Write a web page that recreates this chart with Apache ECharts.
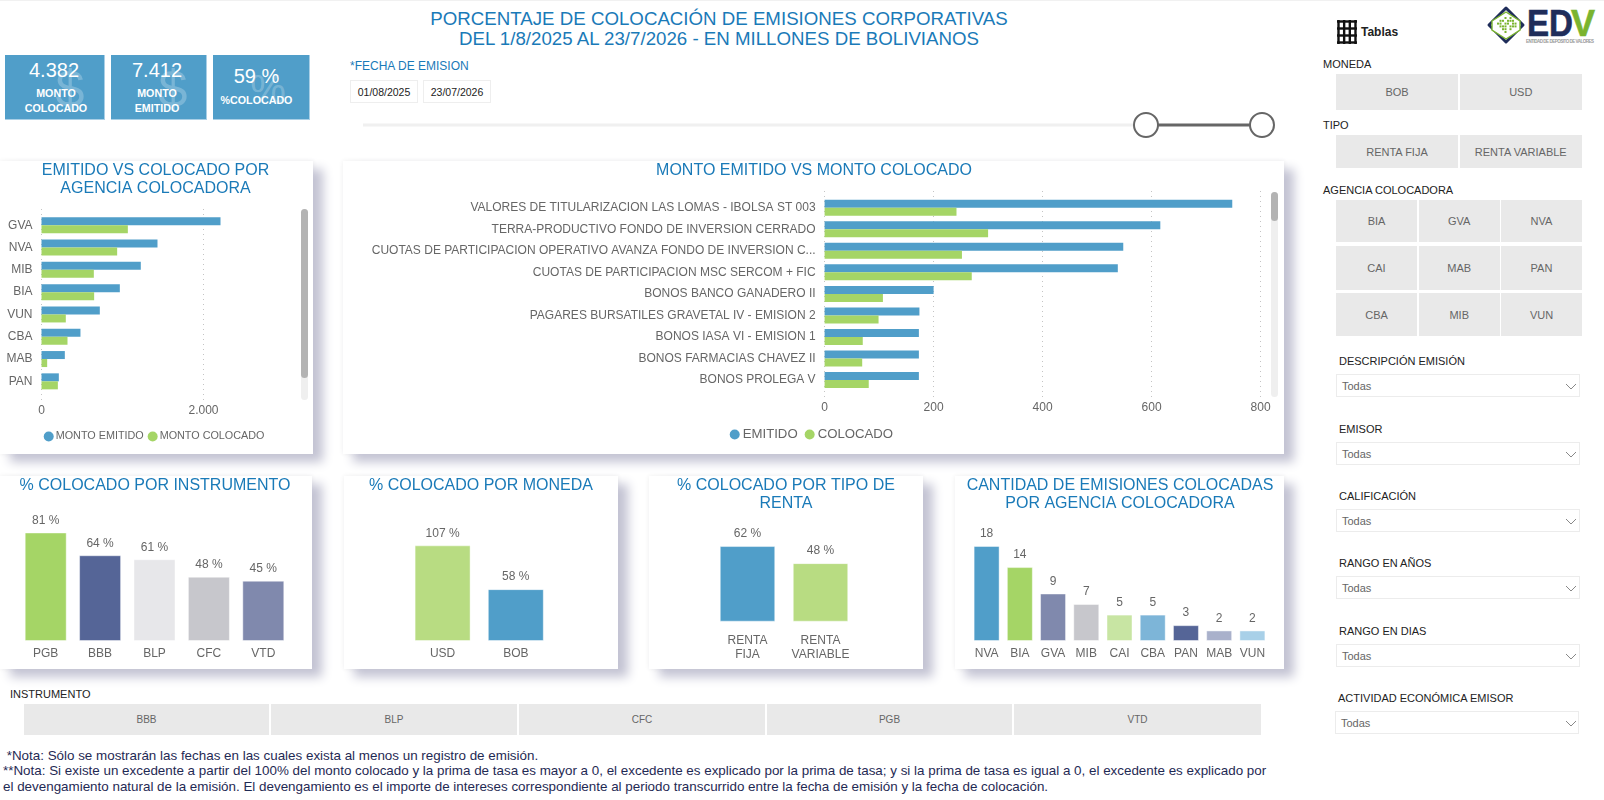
<!DOCTYPE html>
<html>
<head>
<meta charset="utf-8">
<title>Colocación de emisiones corporativas</title>
<script src="https://cdn.jsdelivr.net/npm/echarts@6/dist/echarts.min.js"></script>
<style>
html, body { margin: 0; padding: 0; background: #fff; }
body { position: relative; width: 1604px; height: 800px; overflow: hidden; font-family: "Liberation Sans", Arial, sans-serif; }
#page { position: absolute; left: 0; top: 0; width: 1604px; height: 800px; }
#chart { position: absolute; left: 0; top: 0; width: 1604px; height: 800px; }
.a { position: absolute; white-space: nowrap; }
.panel { background: #fff; box-shadow: 10px 8px 10px #c3c3d3, 0 0 5px #eeeeee; }
.kpi { background: #509ec9; color: #fff; overflow: hidden; border-right: 1px solid #a9cfe6; border-bottom: 1px solid #a9cfe6; box-sizing: border-box; }
.btn { background: #e9e9e9; color: #666; font-size: 11px; display: flex; align-items: center; justify-content: center; }
.lab { font-size: 11px; color: #222; line-height: 14px; }
.drop { border: 1px solid #ececec; box-sizing: border-box; color: #666; font-size: 11px; background: #fff; line-height: 22px; padding-left: 5px; }
.date { border: 1px solid #eee; box-sizing: border-box; font-size: 10.5px; color: #222; text-align: center; line-height: 23px; }
.note { font-size: 13.4px; color: #1f2a54; line-height: 15px; }
</style>
</head>
<body>
<div id="page"></div>
<div id="chart"></div>
<script>
const blue = '#509ec9'
const green = '#a5d566'
const titleColor = '#1a7ab8'
const textColor = '#666666'

// emitido vs colocado por agencia
const agencyNames = ['GVA', 'NVA', 'MIB', 'BIA', 'VUN', 'CBA', 'MAB', 'PAN']
const agencyEmitted = [2210, 1432, 1226, 967, 720, 481, 288, 214]
const agencyPlaced = [1066, 934, 646, 650, 300, 321, 70, 202]

// monto emitido vs colocado
const issueNames = [
  'VALORES DE TITULARIZACION LAS LOMAS - IBOLSA ST 003',
  'TERRA-PRODUCTIVO FONDO DE INVERSION CERRADO',
  'CUOTAS DE PARTICIPACION OPERATIVO AVANZA FONDO DE INVERSION C...',
  'CUOTAS DE PARTICIPACION MSC SERCOM + FIC',
  'BONOS BANCO GANADERO II',
  'PAGARES BURSATILES GRAVETAL IV - EMISION 2',
  'BONOS IASA VI - EMISION 1',
  'BONOS FARMACIAS CHAVEZ II',
  'BONOS PROLEGA V'
]
const issueEmitted = [748, 616, 548, 538, 200, 174, 173, 173, 173]
const issuePlaced = [242, 300, 252, 270, 107, 99, 70, 69, 81]

const instrumentNames = ['PGB', 'BBB', 'BLP', 'CFC', 'VTD']
const instrumentPct = [81, 64, 61, 48, 45]
const instrumentColors = [green, '#556597', '#e7e7ea', '#c7c7cc', '#8089ad']

const currencyNames = ['USD', 'BOB']
const currencyPct = [107, 58]
const currencyColors = ['#b8dc82', blue]

const rentNames = ['RENTA FIJA', 'RENTA VARIABLE']
const rentPct = [62, 48]
const rentColors = [blue, '#b8dc82']

const countNames = ['NVA', 'BIA', 'GVA', 'MIB', 'CAI', 'CBA', 'PAN', 'MAB', 'VUN']
const countValues = [18, 14, 9, 7, 5, 5, 3, 2, 2]
const countColors = [blue, green, '#8089ad', '#c7c7cc', '#c8e5a3', '#7db5d8', '#556597', '#a9b1cb', '#a8d0e8']

// slicers and page texts
const monedaButtons = ['BOB', 'USD']
const tipoButtons = ['RENTA FIJA', 'RENTA VARIABLE']
const agencyButtons = ['BIA', 'GVA', 'NVA', 'CAI', 'MAB', 'PAN', 'CBA', 'MIB', 'VUN']
const instrumentButtons = ['BBB', 'BLP', 'CFC', 'PGB', 'VTD']
const dropLabels = ['DESCRIPCIÓN EMISIÓN', 'EMISOR', 'CALIFICACIÓN', 'RANGO EN AÑOS', 'RANGO EN DIAS', 'ACTIVIDAD ECONÓMICA EMISOR']
const notes = [
  ' *Nota: Sólo se mostrarán las fechas en las cuales exista al menos un registro de emisión.',
  '**Nota: Si existe un excedente a partir del 100% del monto colocado y la prima de tasa es mayor a 0, el excedente es explicado por la prima de tasa; y si la prima de tasa es igual a 0, el excedente es explicado por',
  'el devengamiento natural de la emisión. El devengamiento es el importe de intereses correspondiente al periodo transcurrido entre la fecha de emisión y la fecha de colocación.'
]

const page = document.getElementById('page')

function add(cls, x, y, w, h, text, style) {
  const d = document.createElement('div')
  d.className = 'a ' + cls
  d.style.left = x + 'px'
  d.style.top = y + 'px'
  if (w) d.style.width = w + 'px'
  if (h) d.style.height = h + 'px'
  if (text) d.textContent = text
  if (style) d.style.cssText += style
  page.appendChild(d)
  return d
}

function kpi(x, w, value, labels, mark, markX, markSize, valueX, labelX, valueY, labelY) {
  add('kpi', x, 55, w, 65)
  add('', markX, 60, 60, 58, mark, 'font-size:' + markSize + 'px;color:rgba(255,255,255,.24);text-align:center;line-height:58px;')
  add('', valueX, valueY, w, 24, value, 'font-size:20px;color:#fff;text-align:center;line-height:24px;')
  labels.forEach((l, i) => {
    add('', labelX, labelY + i * 15, w, 14, l, 'font-size:10.7px;font-weight:bold;color:#fff;text-align:center;line-height:14px;')
  })
}

function buildPage() {
  page.appendChild(Object.assign(document.createElement('div'), { className: 'a', style: 'left:0;top:0;width:1604px;height:1px;background:#f1f1f1;' }))

  add('', 350, 8, 738, 21, 'PORCENTAJE DE COLOCACIÓN DE EMISIONES CORPORATIVAS', 'font-size:18.7px;color:' + titleColor + ';text-align:center;line-height:21px;')
  add('', 350, 28, 738, 21, 'DEL 1/8/2025 AL 23/7/2026 - EN MILLONES DE BOLIVIANOS', 'font-size:18.7px;color:' + titleColor + ';text-align:center;line-height:21px;')

  kpi(5, 100, '4.382', ['MONTO', 'COLOCADO'], '$', 40, 52, 4, 6, 58, 86)
  kpi(111, 96, '7.412', ['MONTO', 'EMITIDO'], '$', 143, 52, 109, 109, 58, 86)
  kpi(213, 97, '59 %', ['%COLOCADO'], '%', 238, 40, 208, 208, 64, 93)

  add('', 350, 59, 0, 14, '*FECHA DE EMISION', 'font-size:12px;color:' + titleColor + ';line-height:14px;')
  add('date', 350, 80, 68, 23, '01/08/2025')
  add('date', 423, 80, 68, 23, '23/07/2026')

  // date range slider
  page.insertAdjacentHTML('beforeend',
    '<svg class="a" style="left:0;top:100px" width="1300" height="50">' +
    '<line x1="363" y1="25" x2="1146" y2="25" stroke="#f0f0f0" stroke-width="3"/>' +
    '<line x1="1146" y1="25" x2="1262" y2="25" stroke="#666" stroke-width="3"/>' +
    '<circle cx="1146" cy="25" r="12" fill="#fff" stroke="#666" stroke-width="2"/>' +
    '<circle cx="1262" cy="25" r="12" fill="#fff" stroke="#666" stroke-width="2"/></svg>')

  add('panel', 0, 161, 313, 293)
  add('panel', 343, 161, 941, 293)
  add('panel', 0, 476, 312, 193)
  add('panel', 344, 476, 274, 193)
  add('panel', 649, 476, 274, 193)
  add('panel', 955, 476, 329, 193)

  // scrollbars
  add('', 301, 209, 7, 191, '', 'background:#efefef;border-radius:4px;')
  add('', 301, 209, 7, 169, '', 'background:#b3b3b3;border-radius:4px;')
  add('', 1271, 192, 7, 205, '', 'background:#efefef;border-radius:4px;')
  add('', 1271, 192, 7, 29, '', 'background:#b3b3b3;border-radius:4px;')

  // instrument slicer
  add('lab', 10, 687, 0, 14, 'INSTRUMENTO')
  const instX = [24, 271, 519, 767, 1014]
  const instW = [245, 246, 246, 245, 247]
  instrumentButtons.forEach((b, i) => add('btn', instX[i], 704, instW[i], 31, b, 'font-size:10px;'))

  notes.forEach((n, i) => {
    add('note', 3, 748 + i * 15.4, 0, 15, n, 'white-space:pre;')
  })

  // header right
  let grid = ''
  for (let i = 0; i <= 3; i++) {
    const gx = 1.5 + i * 5.66, gy = 1.5 + i * 7
    grid += '<line x1="' + gx + '" y1="0" x2="' + gx + '" y2="24"/><line x1="0" y1="' + gy + '" x2="20" y2="' + gy + '"/>'
  }
  page.insertAdjacentHTML('beforeend', '<svg class="a" style="left:1337px;top:19.5px" width="20" height="24" stroke="#111" stroke-width="2.4">' + grid + '</svg>')
  add('', 1361, 25, 0, 14, 'Tablas', 'font-size:12px;font-weight:bold;color:#222;line-height:14px;')

  let dots = ''
  const dotRows = [[3, 5], [1, 2, 4, 5, 6], [0, 1, 3, 4, 6, 7], [1, 2, 3, 5, 6, 7], [2, 3, 5], [3]]
  dotRows.forEach((r, j) => r.forEach(k => {
    dots += '<rect x="' + (1497 + k * 2.5) + '" y="' + (17 + j * 2.8) + '" width="2" height="2" fill="#7ab42f"/>'
  }))
  page.insertAdjacentHTML('beforeend',
    '<svg class="a" style="left:0;top:0" width="1604" height="50">' +
    '<path d="M1506 8 L1523 25 L1506 42 L1489 25 Z" fill="none" stroke="#1f2d5a" stroke-width="3" stroke-linejoin="round"/>' +
    '<path d="M1492 21 L1506 12 L1520 21 L1520 30 L1506 39 L1492 30 Z" fill="#fff" stroke="#7ab42f" stroke-width="1.4"/>' + dots +
    '<text x="1527" y="36" font-family="Liberation Sans" font-weight="bold" font-size="36" fill="#1f2d5a" stroke="#1f2d5a" stroke-width=".6" textLength="46" lengthAdjust="spacingAndGlyphs">ED</text>' +
    '<text x="1571" y="36" font-family="Liberation Sans" font-weight="bold" font-size="36" fill="#7ab42f" stroke="#7ab42f" stroke-width=".6" textLength="24" lengthAdjust="spacingAndGlyphs">V</text>' +
    '<text x="1526" y="43" font-family="Liberation Sans" font-weight="bold" font-size="4.5" fill="#9a9a9a" textLength="68">ENTIDAD DE DEPOSITO DE VALORES</text></svg>')

  add('lab', 1323, 57, 0, 14, 'MONEDA')
  add('btn', 1336, 74, 122, 36, monedaButtons[0])
  add('btn', 1460, 74, 121.5, 36, monedaButtons[1])
  add('lab', 1323, 118, 0, 14, 'TIPO')
  add('btn', 1336, 135, 122, 33, tipoButtons[0])
  add('btn', 1460, 135, 121.5, 33, tipoButtons[1])
  add('lab', 1323, 183, 0, 14, 'AGENCIA COLOCADORA')

  const agX = [1336, 1418.7, 1501]
  const agY = [200, 246, 293.3]
  const agH = [42.3, 44, 42.7]
  agencyButtons.forEach((b, i) => add('btn', agX[i % 3], agY[Math.floor(i / 3)], 81, agH[Math.floor(i / 3)], b))

  const labY = [354, 422, 489, 556, 624, 691]
  const boxY = [374, 442, 509, 576, 644, 711]
  dropLabels.forEach((l, i) => {
    const off = i === 5 ? -1 : 0
    add('lab', 1339 + off, labY[i], 0, 14, l)
    add('drop', 1336 + off, boxY[i], 244, 23, 'Todas')
    page.insertAdjacentHTML('beforeend',
      '<svg class="a" style="left:1565px;top:' + (boxY[i] + 9) + 'px" width="12" height="7"><path d="M1 1 L6 6 L11 1" fill="none" stroke="#888" stroke-width="1"/></svg>')
  })
}

buildPage()

// ---- charts ----

function chartTitle(text, x, y) {
  return {
    text: text, left: x - 5, top: y, textAlign: 'center',
    textStyle: { color: titleColor, fontSize: 16, fontWeight: 'normal', fontFamily: 'Liberation Sans', lineHeight: 18 }
  }
}

const labelFont = { color: textColor, fontSize: 12, fontFamily: 'Liberation Sans' }
const grids = []
const xAxes = []
const yAxes = []
const series = []

// horizontal bars: one grid for the bars, one taller grid for the dotted value axis
function hBars(cfg) {
  const idx = grids.length
  grids.push({ left: cfg.x, top: cfg.top, width: cfg.barWidth, height: cfg.height })
  xAxes.push({ gridIndex: idx, type: 'value', min: 0, max: cfg.barMax, show: false })
  yAxes.push({
    gridIndex: idx, type: 'category', inverse: true, data: cfg.names,
    axisLine: { show: false }, axisTick: { show: false },
    axisLabel: { ...labelFont, margin: 9, interval: 0, padding: [2, 0, 0, 0] }
  })
  cfg.series.forEach((s, i) => {
    series.push({
      name: s.name, type: 'bar', xAxisIndex: idx, yAxisIndex: idx, data: s.data,
      barWidth: 8, barGap: 0, z: 3,
      itemStyle: { color: i === 0 ? blue : green }
    })
  })
  grids.push({ left: cfg.x, top: cfg.axisTop, width: cfg.axisWidth, height: cfg.axisHeight })
  xAxes.push({
    gridIndex: idx + 1, type: 'value', min: 0, max: cfg.axisMax, interval: cfg.interval,
    axisLine: { show: false }, axisTick: { show: false },
    axisLabel: { ...labelFont, margin: cfg.labelMargin, formatter: v => v.toLocaleString('de-DE') },
    splitLine: { show: true, lineStyle: { type: [1, 4], color: '#c4c4c4', width: 1 } }
  })
  yAxes.push({ gridIndex: idx + 1, type: 'value', min: 0, max: 1, show: false })
}

// vertical columns with a value label
function columns(cfg) {
  const idx = grids.length
  grids.push({ left: cfg.x, top: cfg.top, width: cfg.width, height: cfg.height })
  xAxes.push({
    gridIndex: idx, type: 'category', data: cfg.names,
    axisLine: { show: false }, axisTick: { show: false },
    axisLabel: { ...labelFont, interval: 0, margin: cfg.labelMargin || 6, lineHeight: 14, formatter: cfg.nameFormat }
  })
  yAxes.push({ gridIndex: idx, type: 'value', min: 0, max: cfg.max, show: false })
  series.push({
    type: 'bar', xAxisIndex: idx, yAxisIndex: idx, barWidth: cfg.barWidth,
    data: cfg.values.map((v, i) => ({ value: v, itemStyle: { color: cfg.colors[i], borderColor: 'rgba(255,255,255,.45)', borderWidth: 1 } })),
    label: { show: true, position: 'top', distance: 6, ...labelFont, formatter: cfg.valueFormat }
  })
}

hBars({
  x: 41.5, top: 214.1, height: 178.4, barWidth: 243, barMax: 3000,
  axisTop: 209, axisHeight: 191, axisWidth: 162, axisMax: 2000, interval: 2000, labelMargin: 5,
  names: agencyNames,
  series: [{ name: 'MONTO EMITIDO', data: agencyEmitted }, { name: 'MONTO COLOCADO', data: agencyPlaced }]
})
hBars({
  x: 824.6, top: 196.9, height: 194, barWidth: 436, barMax: 800,
  axisTop: 191, axisHeight: 208, axisWidth: 436, axisMax: 800, interval: 200, labelMargin: 3,
  names: issueNames,
  series: [{ name: 'EMITIDO', data: issueEmitted }, { name: 'COLOCADO', data: issuePlaced }]
})
columns({ x: 18.5, top: 507, width: 272, height: 134, max: 100, barWidth: 42, names: instrumentNames, values: instrumentPct, colors: instrumentColors, valueFormat: '{c} %' })
columns({ x: 406, top: 533.7, width: 146.4, height: 107.3, max: 120, barWidth: 56, names: currencyNames, values: currencyPct, colors: currencyColors, valueFormat: '{c} %' })
columns({ x: 711, top: 536.3, width: 146, height: 85.4, max: 70, barWidth: 55.5, names: rentNames, values: rentPct, colors: rentColors, valueFormat: '{c} %', labelMargin: 12, nameFormat: v => v.replace(' ', '\n') })
columns({ x: 970, top: 535.4, width: 299, height: 105.6, max: 20, barWidth: 26, names: countNames, values: countValues, colors: countColors, valueFormat: '{c}' })

const chart = echarts.init(document.getElementById('chart'))
chart.setOption({
  animation: false,
  title: [
    chartTitle('EMITIDO VS COLOCADO POR\nAGENCIA COLOCADORA', 155.5, 157),
    chartTitle('MONTO EMITIDO VS MONTO COLOCADO', 814, 157),
    chartTitle('% COLOCADO POR INSTRUMENTO', 155, 472),
    chartTitle('% COLOCADO POR MONEDA', 481, 472),
    chartTitle('% COLOCADO POR TIPO DE\nRENTA', 786, 472),
    chartTitle('CANTIDAD DE EMISIONES COLOCADAS\nPOR AGENCIA COLOCADORA', 1120, 472)
  ],
  legend: [
    {
      left: 43.7, top: 431, icon: 'circle', itemWidth: 10, itemHeight: 10, itemGap: 4, padding: 0,
      data: ['MONTO EMITIDO', 'MONTO COLOCADO'],
      textStyle: { ...labelFont, fontSize: 10.8, padding: [0, 0, 0, -3] }
    },
    {
      left: 729.7, top: 428, icon: 'circle', itemWidth: 10, itemHeight: 10, itemGap: 7, padding: 0,
      data: ['EMITIDO', 'COLOCADO'],
      textStyle: { ...labelFont, fontSize: 13.2, padding: [0, 0, 0, -2] }
    }
  ],
  grid: grids,
  xAxis: xAxes,
  yAxis: yAxes,
  series: series
})
</script>
</body>
</html>
